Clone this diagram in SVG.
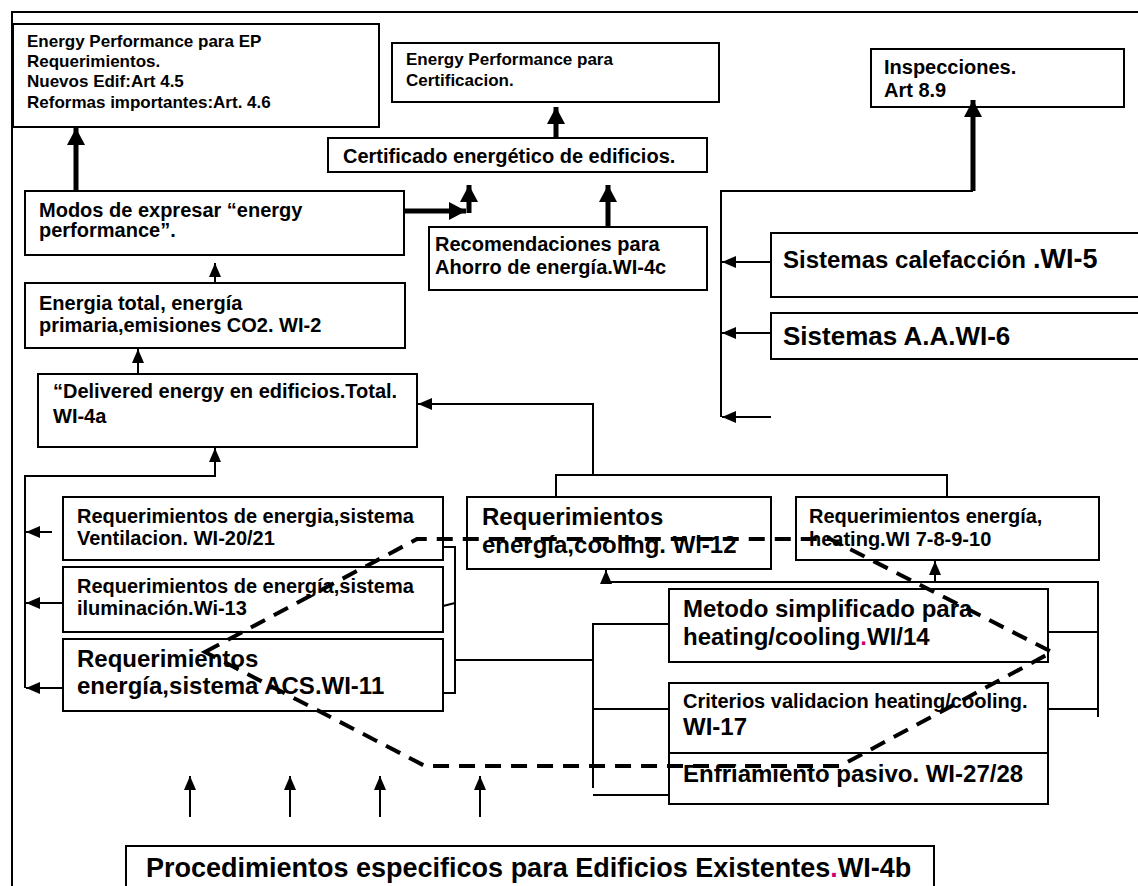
<svg xmlns="http://www.w3.org/2000/svg" width="1138" height="886" viewBox="0 0 1138 886">
<defs>
<style>
.box{fill:#fff;stroke:#000;stroke-width:2}
.t{font-family:"Liberation Sans",Arial,sans-serif;font-weight:bold;fill:#000}
.s17{font-size:17px}.s20{font-size:20px}.s24{font-size:24px}.s26{font-size:26px}.s27{font-size:27px}
.ln{fill:none;stroke:#000;stroke-width:2}
.thick{fill:none;stroke:#000;stroke-width:5}
.dash{fill:none;stroke:#000;stroke-width:4;stroke-dasharray:16 10}
.pink{fill:#d0006f}
</style>
<marker id="ah" markerUnits="userSpaceOnUse" markerWidth="14" markerHeight="12" refX="14" refY="6" orient="auto" viewBox="0 0 14 12">
<path d="M0,0 L14,6 L0,12 z" fill="#000"/>
</marker>
<marker id="ahT" markerUnits="userSpaceOnUse" markerWidth="17" markerHeight="18" refX="17" refY="9" orient="auto" viewBox="0 0 17 18">
<path d="M0,0 L17,9 L0,18 z" fill="#000"/>
</marker>
</defs>
<rect width="1138" height="886" fill="#fff"/>
<path class="ln" d="M12,886 L12,12 L1138,12"/>

<g id="n-ep-req">
<rect class="box" x="13" y="24" width="366" height="103"/>
<text class="t s17" x="27" y="47">Energy Performance para EP</text>
<text class="t s17" x="27" y="67">Requerimientos.</text>
<text class="t s17" x="27" y="87">Nuevos Edif:Art 4.5</text>
<text class="t s17" x="27" y="108">Reformas importantes:Art. 4.6</text>
</g>
<g id="n-ep-cert">
<rect class="box" x="392" y="43" width="327" height="59"/>
<text class="t s17" x="406" y="65">Energy Performance para</text>
<text class="t s17" x="406" y="86">Certificacion.</text>
</g>
<g id="n-certificado">
<rect class="box" x="328" y="138" width="379" height="34"/>
<text class="t s20" x="343" y="163">Certificado energético de edificios.</text>
</g>
<g id="n-inspecciones">
<rect class="box" x="871" y="49" width="253" height="58"/>
<text class="t s20" x="884" y="74">Inspecciones.</text>
<text class="t s20" x="884" y="97">Art 8.9</text>
</g>
<g id="n-modos">
<rect class="box" x="25" y="191" width="379" height="64"/>
<text class="t s20" x="39" y="217">Modos de expresar “energy</text>
<text class="t s20" x="39" y="237">performance”.</text>
</g>
<g id="n-recomendaciones">
<rect class="box" x="429" y="227" width="278" height="63"/>
<text class="t s20" x="435" y="251">Recomendaciones para</text>
<text class="t s20" x="435" y="274">Ahorro de energía.WI-4c</text>
</g>
<g id="n-calefaccion">
<rect class="box" x="771" y="233" width="380" height="64"/>
<text class="t s24" x="783" y="268">Sistemas calefacción <tspan class="s27" x="1033">.WI-5</tspan></text>
</g>
<g id="n-aa">
<rect class="box" x="771" y="313" width="380" height="46"/>
<text class="t s26" x="783" y="345">Sistemas A.A.WI-6</text>
</g>
<g id="n-energia-total">
<rect class="box" x="25" y="283" width="380" height="65"/>
<text class="t s20" x="39" y="310">Energia total, energía</text>
<text class="t s20" x="39" y="332">primaria,emisiones CO2. WI-2</text>
</g>
<g id="n-delivered">
<rect class="box" x="38" y="374" width="379" height="73"/>
<text class="t s20" x="53" y="398">“Delivered energy en edificios.Total.</text>
<text class="t s20" x="53" y="423">WI-4a</text>
</g>
<g id="n-ventilacion">
<rect class="box" x="63" y="497" width="380" height="63"/>
<text class="t s20" x="77" y="523">Requerimientos de energia,sistema</text>
<text class="t s20" x="77" y="545">Ventilacion. WI-20/21</text>
</g>
<g id="n-iluminacion">
<rect class="box" x="63" y="567" width="380" height="65"/>
<text class="t s20" x="77" y="593">Requerimientos de energía,sistema</text>
<text class="t s20" x="77" y="615">iluminación.Wi-13</text>
</g>
<g id="n-acs">
<rect class="box" x="63" y="639" width="380" height="72"/>
<text class="t s24" x="77" y="667">Requerimientos</text>
<text class="t s24" x="77" y="694">energía,sistema ACS.WI-11</text>
</g>
<g id="n-cooling">
<rect class="box" x="467" y="497" width="304" height="72"/>
<text class="t s24" x="482" y="525">Requerimientos</text>
<text class="t s24" x="482" y="553">energía,cooling. Wi-12</text>
</g>
<g id="n-heating">
<rect class="box" x="796" y="497" width="303" height="63"/>
<text class="t s20" x="809" y="523">Requerimientos energía,</text>
<text class="t s20" x="809" y="546">heating.WI 7-8-9-10</text>
</g>
<g id="n-metodo">
<rect class="box" x="669" y="589" width="379" height="73"/>
<text class="t s24" x="683" y="617">Metodo simplificado para</text>
<text class="t s24" x="683" y="645">heating/cooling<tspan class="pink">.</tspan>WI/14</text>
</g>
<g id="n-criterios">
<rect class="box" x="669" y="683" width="379" height="70"/>
<text class="t s20" x="683" y="708">Criterios validacion heating/cooling.</text>
<text class="t s24" x="683" y="735">WI-17</text>
</g>
<g id="n-enfriamiento">
<rect class="box" x="669" y="753" width="379" height="51"/>
<text class="t s24" x="683" y="782">Enfriamiento pasivo. WI-27/28</text>
</g>
<g id="n-procedimientos">
<rect class="box" x="126" y="846" width="808" height="60"/>
<text class="t s27" x="146" y="877">Procedimientos especificos para Edificios Existentes<tspan class="pink">.</tspan>WI-4b</text>
</g>

<g id="connectors">
<path class="thick" d="M76,191 L76,128" marker-end="url(#ahT)"/>
<path class="thick" d="M556,138 L556,107" marker-end="url(#ahT)"/>
<path class="thick" d="M405,211 L466,211" marker-end="url(#ahT)"/>
<path class="thick" d="M469,213 L469,185" marker-end="url(#ahT)"/>
<path class="thick" d="M608,227 L608,185" marker-end="url(#ahT)"/>
<path class="thick" d="M973,191 L973,100" marker-end="url(#ahT)"/>
<path class="ln" d="M721,417 L721,191 L973,191"/>
<path class="ln" d="M771,262 L722,262" marker-end="url(#ah)"/>
<path class="ln" d="M771,333 L722,333" marker-end="url(#ah)"/>
<path class="ln" d="M771,417 L722,417" marker-end="url(#ah)"/>
<path class="ln" d="M215,283 L215,263" marker-end="url(#ah)"/>
<path class="ln" d="M138,374 L138,349" marker-end="url(#ah)"/>
<path class="ln" d="M556,497 L556,475 L947,475 L947,497"/>
<path class="ln" d="M593,475 L593,404 L418,404" marker-end="url(#ah)"/>
<path class="ln" d="M25,688 L25,476 L215,476 L215,448" marker-end="url(#ah)"/>
<path class="ln" d="M52,532 L26,532" marker-end="url(#ah)"/>
<path class="ln" d="M63,603 L26,603" marker-end="url(#ah)"/>
<path class="ln" d="M63,688 L26,688" marker-end="url(#ah)"/>
<path class="ln" d="M443,547 L455,547 L455,693 L443,693"/>
<path class="ln" d="M443,606 L455,603"/>
<path class="ln" d="M455,660 L593,660"/>
<path class="ln" d="M593,788 L593,624 L669,624"/>
<path class="ln" d="M593,709 L669,709"/>
<path class="ln" d="M593,795 L669,795"/>
<path class="ln" d="M606,582 L1098,582 L1098,717"/>
<path class="ln" d="M606,582 L606,570" marker-end="url(#ah)"/>
<path class="ln" d="M935,582 L935,561" marker-end="url(#ah)"/>
<path class="ln" d="M1048,632 L1098,632"/>
<path class="ln" d="M1048,709 L1098,709"/>
<path class="ln" d="M190,817 L190,776" marker-end="url(#ah)"/>
<path class="ln" d="M290,817 L290,776" marker-end="url(#ah)"/>
<path class="ln" d="M380,817 L380,776" marker-end="url(#ah)"/>
<path class="ln" d="M480,817 L480,776" marker-end="url(#ah)"/>
<path class="dash" d="M205,652 L417,539 L830,539 L1052,652 L840,766 L425,766 Z"/>
</g>
</svg>
